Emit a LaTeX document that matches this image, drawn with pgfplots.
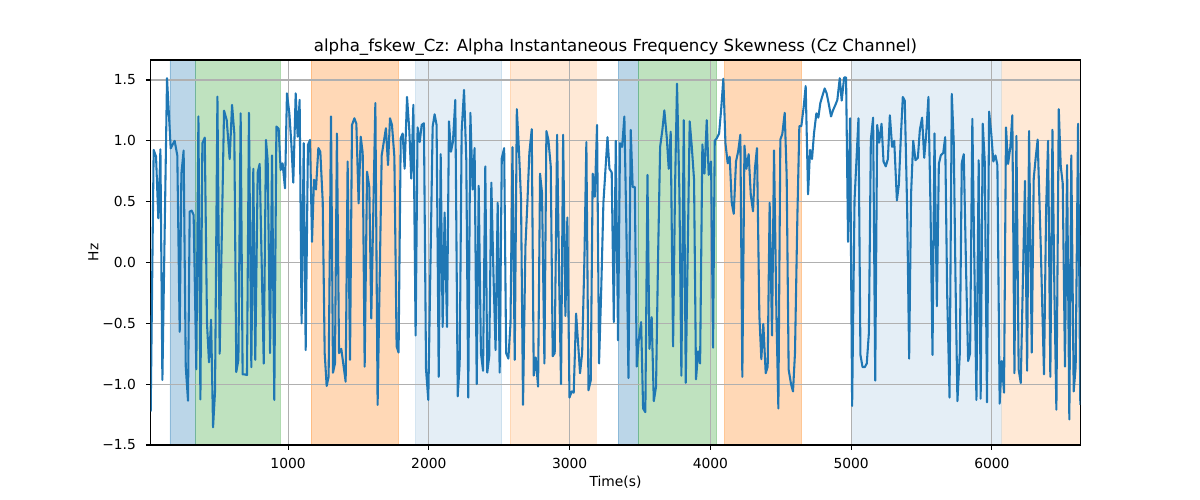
\documentclass[border=0pt]{standalone}
\usepackage{fontspec}
\setmainfont{DejaVu Sans}
\usepackage{pgfplots}
\pgfplotsset{compat=1.18}
\definecolor{tabblue}{HTML}{1F77B4}
\definecolor{taborange}{HTML}{FF7F0E}
\definecolor{tabgreen}{HTML}{2CA02C}
\definecolor{gridgray}{HTML}{B0B0B0}
\begin{document}
\begin{tikzpicture}
\begin{axis}[
 set layers,
 scale only axis, width=9.296in, height=3.85in,
 xmin=24, xmax=6628, ymin=-1.5, ymax=1.664,
 axis line style={line width=0.8pt},
 xtick={1000,2000,3000,4000,5000,6000},
 xticklabels={1000,2000,3000,4000,5000,6000},
 ytick={-1.5,-1,-0.5,0,0.5,1,1.5},
 yticklabels={−1.5,−1.0,−0.5,0.0,0.5,1.0,1.5},
 tick pos=left, tick align=outside, major tick length=3.5pt,
 tick style={black, line width=0.8pt},
 grid=major, grid style={gridgray, line width=0.8pt},
 xticklabel style={inner sep=0pt, anchor=north, yshift=-6pt},
 yticklabel style={inner sep=0pt, anchor=east, xshift=-7pt},
 title={alpha\_fskew\_Cz: Alpha Instantaneous Frequency Skewness (Cz Channel)},
 title style={at={(axis description cs:0.5,1)}, anchor=base, inner sep=0pt, font=\fontsize{12}{14}\selectfont},
 xlabel={Time(s)},
 xlabel style={at={(axis description cs:0.5,-0.081)}, anchor=north, inner sep=0pt},
 ylabel={Hz},
 ylabel style={at={(axis description cs:-0.0559,0.5)}, anchor=south, inner sep=0pt},
]
% spans
\addplot[on layer=axis background, forget plot, fill=tabblue, draw=tabblue, opacity=0.3] coordinates {(161,-1.5) (161,1.664) (344,1.664) (344,-1.5) (161,-1.5)};
\addplot[on layer=axis background, forget plot, fill=tabgreen, draw=tabgreen, opacity=0.3] coordinates {(344,-1.5) (344,1.664) (946,1.664) (946,-1.5) (344,-1.5)};
\addplot[on layer=axis background, forget plot, fill=taborange, draw=taborange, opacity=0.3] coordinates {(1163,-1.5) (1163,1.664) (1786,1.664) (1786,-1.5) (1163,-1.5)};
\addplot[on layer=axis background, forget plot, fill=tabblue, draw=tabblue, opacity=0.12] coordinates {(1904,-1.5) (1904,1.664) (2518,1.664) (2518,-1.5) (1904,-1.5)};
\addplot[on layer=axis background, forget plot, fill=taborange, draw=taborange, opacity=0.17] coordinates {(2577,-1.5) (2577,1.664) (3186,1.664) (3186,-1.5) (2577,-1.5)};
\addplot[on layer=axis background, forget plot, fill=tabblue, draw=tabblue, opacity=0.3] coordinates {(3344,-1.5) (3344,1.664) (3489,1.664) (3489,-1.5) (3344,-1.5)};
\addplot[on layer=axis background, forget plot, fill=tabgreen, draw=tabgreen, opacity=0.3] coordinates {(3489,-1.5) (3489,1.664) (4045,1.664) (4045,-1.5) (3489,-1.5)};
\addplot[on layer=axis background, forget plot, fill=taborange, draw=taborange, opacity=0.3] coordinates {(4100,-1.5) (4100,1.664) (4649,1.664) (4649,-1.5) (4100,-1.5)};
\addplot[on layer=axis background, forget plot, fill=tabblue, draw=tabblue, opacity=0.12] coordinates {(5004,-1.5) (5004,1.664) (6068,1.664) (6068,-1.5) (5004,-1.5)};
\addplot[on layer=axis background, forget plot, fill=taborange, draw=none, opacity=0.17] coordinates {(6068,-1.5) (6068,1.664) (6628,1.664) (6628,-1.5) (6068,-1.5)};
% signal
\addplot[tabblue, line width=1.5pt, line join=round, mark=none] coordinates {
(24,-1.226) (45,0.925) (62,0.87) (78,0.363) (93,0.93) (107,-0.966) (140,1.514) (166,0.938)
(194,1.0) (213,0.88) (230,-0.57) (242,0.73) (258,0.92) (273,-0.856) (289,-1.136) (301,0.418)
(315,0.426) (329,0.39) (348,-0.878) (363,1.2) (377,-1.125) (391,0.98) (408,1.026) (424,-0.5)
(438,-0.82) (453,-0.47) (467,-1.355) (481,-1.06) (498,1.363) (514,-0.75) (545,1.248) (564,1.17)
(585,0.85) (602,1.295) (618,1.06) (632,-0.9) (647,-0.80) (663,1.226) (677,-0.92) (692,-0.92)
(708,-0.925) (722,1.23) (739,-0.86) (753,0.77) (767,-0.80) (784,0.74) (798,0.81) (827,-0.83)
(843,1.007) (855,0.84) (872,-0.745) (886,0.88) (902,-1.13) (917,1.117) (933,1.10) (947,0.76)
(961,0.815) (978,0.61) (992,1.39) (1009,1.226) (1023,0.98) (1037,0.656) (1054,1.39) (1068,1.034)
(1082,1.336) (1096,-0.5) (1111,0.98) (1125,-0.72) (1141,0.966) (1156,1.007) (1170,0.17) (1184,0.68)
(1198,0.6) (1215,0.94) (1229,0.91) (1246,0.5) (1260,-0.745) (1274,-1.015) (1288,-0.94) (1305,1.2)
(1319,-0.906) (1333,-0.83) (1347,1.06) (1362,-0.745) (1378,-0.71) (1409,-0.98) (1423,0.83) (1440,-0.80)
(1454,1.13) (1471,1.185) (1485,1.14) (1501,0.486) (1516,1.034) (1530,0.9) (1544,-0.856) (1561,0.746)
(1577,0.62) (1591,-0.46) (1620,1.31) (1636,-1.17) (1665,0.88) (1695,1.103) (1710,0.80) (1724,1.185)
(1738,1.13) (1755,0.87) (1771,-0.69) (1785,-0.74) (1800,1.02) (1814,1.06) (1828,0.77) (1845,1.36)
(1861,1.09) (1875,0.69) (1890,1.295) (1906,-0.60) (1920,1.11) (1935,0.99) (1949,1.13) (1965,1.144)
(1980,-0.88) (1996,-1.13) (2027,1.116) (2041,1.218) (2055,1.13) (2070,-0.94) (2084,0.89) (2098,-0.53)
(2112,0.41) (2129,-0.53) (2143,1.16) (2157,0.91) (2171,0.99) (2188,1.336) (2205,-1.1) (2219,-0.83)
(2233,1.075) (2250,1.418) (2266,0.84) (2280,-1.11) (2295,1.23) (2311,0.60) (2325,0.94) (2340,-1.0)
(2354,0.63) (2370,-0.745) (2385,-0.89) (2401,0.79) (2415,-0.905) (2429,-0.77) (2444,0.656) (2459,-0.1)
(2474,-0.72) (2489,0.49) (2503,-0.905) (2518,0.856) (2535,0.94) (2549,-0.745) (2565,-0.79) (2580,-0.5)
(2594,0.947) (2610,-0.80) (2625,1.26) (2641,0.90) (2655,0.51) (2669,-1.17) (2686,0.13) (2700,0.49)
(2714,0.9) (2731,1.095) (2745,-0.93) (2759,-0.78) (2776,-1.02) (2790,0.73) (2804,0.57) (2821,-0.83)
(2835,1.08) (2849,1.01) (2866,0.79) (2880,-0.77) (2894,-0.745) (2911,1.05) (2925,-0.09) (2939,-1.0)
(2954,1.05) (2970,-0.44) (2984,0.37) (2999,-1.11) (3015,-1.06) (3029,-1.07) (3046,-0.42) (3060,-0.66)
(3074,-0.91) (3089,-0.745) (3105,0.02) (3119,0.99) (3134,-1.05) (3150,-0.97) (3164,0.73) (3179,0.54)
(3195,1.13) (3209,-0.83) (3224,-0.25) (3240,0.49) (3269,1.03) (3283,0.77) (3299,0.74) (3314,-0.49)
(3328,1.0) (3344,-0.64) (3358,0.98) (3373,0.95) (3389,1.2) (3403,0.30) (3418,-0.95) (3434,1.09)
(3448,0.62) (3463,0.62) (3477,-0.856) (3491,-0.64) (3508,-0.49) (3522,-1.2) (3538,-1.23) (3553,0.72)
(3567,-0.71) (3583,-0.45) (3598,-1.14) (3614,-1.02) (3628,0.02) (3643,0.95) (3659,1.09) (3673,1.25)
(3690,1.03) (3704,0.77) (3718,1.075) (3735,-0.69) (3749,0.62) (3763,1.47) (3780,0.57) (3794,-0.93)
(3811,1.17) (3825,-0.99) (3853,1.16) (3868,0.95) (3884,0.68) (3898,-0.96) (3913,-0.73) (3927,-0.83)
(3943,0.97) (3958,0.73) (3974,1.17) (3988,0.72) (4005,0.83) (4019,-0.70) (4031,1.0) (4045,1.02)
(4062,1.06) (4078,1.28) (4092,1.51) (4107,0.98) (4123,0.815) (4137,0.87) (4152,0.49) (4166,0.40)
(4182,0.83) (4197,0.91) (4213,1.05) (4227,-0.94) (4242,0.96) (4256,0.77) (4272,0.89) (4287,0.555)
(4303,0.42) (4317,0.78) (4331,0.94) (4348,-0.44) (4362,-0.795) (4376,-0.505) (4393,-0.91) (4407,-0.856)
(4421,0.49) (4438,-0.6) (4452,0.92) (4469,-0.42) (4483,-1.2) (4497,1.01) (4511,1.056) (4528,1.23)
(4542,0.71) (4556,-0.88) (4573,-1.0) (4587,-1.06) (4601,-0.745) (4618,0.38) (4632,1.12) (4646,1.12)
(4663,1.28) (4677,1.45) (4694,0.56) (4708,0.925) (4722,0.85) (4736,1.06) (4753,1.226) (4767,1.19)
(4781,1.31) (4796,1.37) (4812,1.43) (4826,1.39) (4843,1.29) (4857,1.2) (4871,1.25) (4888,1.295)
(4902,1.336) (4919,1.514) (4933,1.33) (4950,1.52) (4964,1.52) (4978,0.17) (4992,1.185) (5007,-1.18)
(5024,0.51) (5052,1.185) (5066,-0.76) (5081,-0.86) (5097,-0.86) (5111,-0.83) (5126,-0.58) (5140,1.01)
(5156,1.19) (5171,-0.97) (5185,1.13) (5199,0.985) (5216,1.14) (5230,0.83) (5246,0.79) (5261,0.85)
(5275,1.21) (5291,0.95) (5306,1.0) (5325,0.51) (5339,0.64) (5353,1.03) (5367,1.36) (5381,1.33)
(5398,0.43) (5412,-0.79) (5426,0.57) (5441,1.0) (5457,0.84) (5474,0.86) (5488,1.09) (5504,1.19)
(5519,0.86) (5533,1.05) (5549,1.36) (5564,0.43) (5578,-0.76) (5592,1.06) (5609,-0.36) (5623,0.81)
(5637,0.88) (5654,0.9) (5668,1.03) (5682,-0.25) (5699,-1.11) (5715,1.385) (5729,0.98) (5741,-0.12)
(5755,-1.14) (5772,-0.745) (5786,0.82) (5800,0.89) (5817,-0.09) (5831,-0.81) (5845,-0.745) (5861,1.18)
(5875,0.02) (5890,-1.13) (5906,0.84) (5920,-1.12) (5935,1.14) (5949,0.83) (5965,-1.15) (5980,1.24)
(5996,1.05) (6010,0.83) (6025,0.88) (6039,0.80) (6055,-1.16) (6070,-0.81) (6086,-1.07) (6100,1.11)
(6115,0.81) (6131,0.95) (6145,1.21) (6160,-0.91) (6174,1.04) (6190,-0.88) (6205,-0.99) (6221,-0.09)
(6235,0.67) (6250,-0.89) (6264,1.08) (6283,-0.74) (6297,0.69) (6311,0.86) (6325,1.01) (6347,0.13)
(6370,-0.92) (6385,0.43) (6399,1.0) (6415,-0.94) (6430,1.09) (6444,-0.25) (6458,-1.21) (6475,1.26)
(6489,0.79) (6503,0.65) (6519,-0.856) (6534,0.80) (6550,-1.29) (6564,0.88) (6581,-1.06) (6595,-0.856)
(6612,1.14) (6628,-1.17)
};
\end{axis}
\pgfresetboundingbox
\path[use as bounding box] (-1.507in,-0.55in) rectangle (10.493in,4.45in);
\end{tikzpicture}
\end{document}
